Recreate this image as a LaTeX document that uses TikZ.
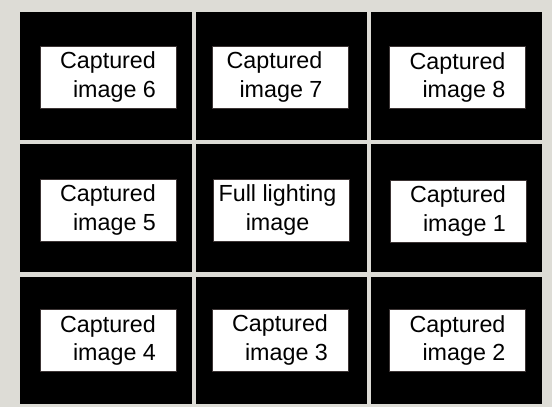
\documentclass[tikz,border=0pt]{standalone}
\usepackage{fontspec}
\setmainfont{Liberation Sans}
\usetikzlibrary{positioning}
\definecolor{panelgray}{HTML}{DDDCD6}
\definecolor{frameline}{HTML}{3C3434}

\begin{document}
\begin{tikzpicture}[x=1pt,y=-1pt,font=\fontsize{23.3}{28.5}\selectfont,
    capbox/.style={draw=frameline,line width=0.8pt,fill=white,
      minimum width=136pt,minimum height=62pt,inner sep=0pt},
    captext/.style={align=right,inner sep=0pt}]
  \fill[panelgray] (0,0) rectangle (552,407);
  % black tiles
  \foreach \x/\w in {20/172,196/171,371/171}
    \foreach \y/\h in {12/128,144/128,277/127}
      {\fill[black] (\x,\y) rectangle ++(\w,\h);}
  % white frames with captions
  \foreach \n/\x/\y/\s/\l in {six/108/77/0/{Captured\\image 6},
      seven/280.5/77/-6/{Captured\\image 7},
      eight/457.5/77.5/0/{Captured\\image 8},
      five/108/210/0/{Captured\\image 5},
      one/458/211/0/{Captured\\image 1},
      four/108/340.5/0/{Captured\\image 4},
      three/280/340/0/{Captured\\image 3},
      two/457.5/340.5/0/{Captured\\image 2}}
    {\node[capbox] (box\n) at (\x,\y) {};
     \node[captext] (text\n) at ([xshift=\s pt]box\n.center) {\l};}
  \node[capbox] (boxfull) at (281,210) {};
  \node[captext,align=center] (textfull) at ([xshift=-3.5pt]boxfull.center)
    {Full lighting\\image};
\end{tikzpicture}
\end{document}
